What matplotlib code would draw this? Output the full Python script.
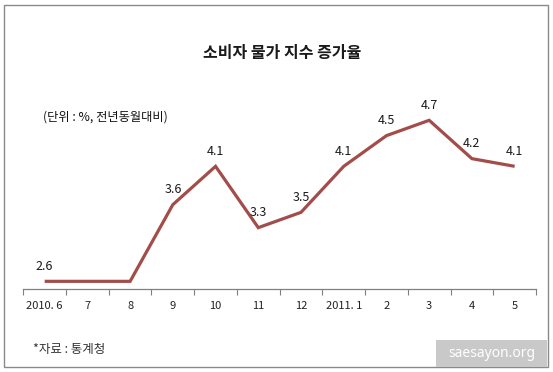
import matplotlib
matplotlib.use("Agg")
import matplotlib.pyplot as plt
from matplotlib.patches import Rectangle

plt.rcParams['font.family'] = ['Noto Sans CJK KR', 'DejaVu Sans']

categories = ["2010. 6", "7", "8", "9", "10", "11", "12", "2011. 1", "2", "3", "4", "5"]
values = [2.6, 2.6, 2.6, 3.6, 4.1, 3.3, 3.5, 4.1, 4.5, 4.7, 4.2, 4.1]
shown_labels = [True, False, False, True, True, True, True, True, True, True, True, True]

W, H = 553, 372
fig = plt.figure(figsize=(W / 100, H / 100), dpi=100)

def fx(px):
    return px / W

def fy(py):
    return 1 - py / H

# axes in pixel coordinates
left, right, bottom, top = 23.3, 536.0, 289.0, 97.3
ax = fig.add_axes([fx(left), fy(bottom), fx(right - left), (bottom - top) / H])

x = list(range(len(categories)))
line_color = '#A34D4B'
ax.plot(x, values, color=line_color, lw=2.3, solid_joinstyle='miter', solid_capstyle='butt')
for xi, v, show in zip(x, values, shown_labels):
    if show:
        ax.annotate(f"{v:.1f}", (xi, v), xytext=(0, 11), textcoords='offset points',
                    ha='center', va='center', fontsize=9, color='#1a1a1a')

ax.set_xlim(-0.5, len(categories) - 0.5)
ax.set_ylim(2.5, 5.0)
ax.set_yticks([])
ax.set_xticks(x)
ax.set_xticklabels(categories, fontsize=8, color='#222222')
ax.set_xticks([i - 0.5 for i in range(len(categories) + 1)], minor=True)
ax.tick_params(axis='x', which='major', length=0, pad=8.5)
ax.tick_params(axis='x', which='minor', length=4, width=0.8, color='#808080', direction='out')
for s in ['top', 'right', 'left']:
    ax.spines[s].set_visible(False)
ax.spines['bottom'].set_color('#808080')
ax.spines['bottom'].set_linewidth(0.9)
ax.patch.set_alpha(0)

# title / subtitle / source
fig.text(fx(281.7), fy(52.7), "소비자 물가 지수 증가율", ha='center', va='center',
         fontsize=11.5, fontweight='bold', color='#1a1a1a')
fig.text(fx(42.7), fy(117.3), "(단위 : %, 전년동월대비)", ha='left', va='center',
         fontsize=8.8, fontweight='medium', color='#111111')
fig.text(fx(33), fy(350), "*자료 : 통계청", ha='left', va='center',
         fontsize=9, color='#333333')

# border
fig.add_artist(Rectangle((fx(3.5), fy(367)), fx(548.3 - 3.5), (367 - 5.3) / H,
                         transform=fig.transFigure, fill=False, edgecolor='#8a8a8a', lw=1.0))
# watermark
fig.add_artist(Rectangle((fx(436), fy(367)), fx(547 - 436), (367 - 340) / H,
                         transform=fig.transFigure, facecolor='#c9c9c9', edgecolor='none'))
fig.text(fx(491.5), fy(353.5), "saesayon.org", ha='center', va='center',
         fontsize=10, color='white', family=['Noto Sans', 'DejaVu Sans'])

fig.savefig("out.png", dpi=100)
